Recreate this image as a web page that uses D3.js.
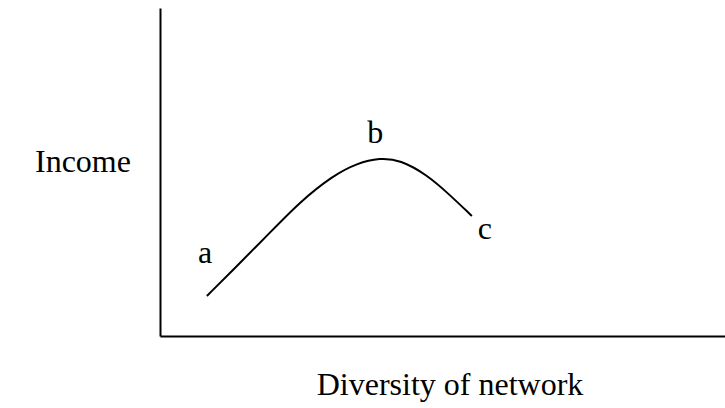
<!DOCTYPE html>
<html>
<head>
<meta charset="utf-8">
<script src="https://cdn.jsdelivr.net/npm/d3@7"></script>
<style>
  body { margin: 0; background: #fff; }
  text { font-family: 'Liberation Serif', 'Times New Roman', serif; fill: #000; }
</style>
</head>
<body>
<script>
// curve (arbitrary units)
const diversity = [0.83, 1.29, 1.89, 2.48, 3.06, 3.49, 3.89, 4.25, 4.73, 5.13, 5.52];
const income    = [1.22, 2.01, 3.05, 4.10, 4.89, 5.27, 5.43, 5.37, 4.91, 4.30, 3.66];

const pointLabels = ['a', 'b', 'c'];
const labelX = [0.80, 3.81, 5.75];
const labelY = [2.23, 5.88, 2.96];

const WIDTH = 725, HEIGHT = 408;
const MARGIN = { top: 8, right: 0, bottom: 72, left: 160 };

const x = d3.scaleLinear().domain([0, 10]).range([MARGIN.left, WIDTH - MARGIN.right]);
const y = d3.scaleLinear().domain([0, 10]).range([HEIGHT - MARGIN.bottom, MARGIN.top]);

const svg = d3.select('body').append('svg')
  .attr('width', WIDTH)
  .attr('height', HEIGHT);

// axes without ticks, just the two lines
svg.append('g')
  .attr('transform', `translate(0, ${y(0)})`)
  .call(d3.axisBottom(x).tickValues([]).tickSizeOuter(0))
  .select('.domain').attr('stroke-width', 2.2);

svg.append('g')
  .attr('transform', `translate(${x(0)}, 0)`)
  .call(d3.axisLeft(y).tickValues([]).tickSizeOuter(0))
  .select('.domain').attr('stroke-width', 2);

const line = d3.line()
  .x((d, i) => x(diversity[i]))
  .y((d) => y(d))
  .curve(d3.curveBasis);

svg.append('path')
  .datum(income)
  .attr('d', line)
  .attr('fill', 'none')
  .attr('stroke', '#000')
  .attr('stroke-width', 2);

svg.selectAll('.pt-label')
  .data(pointLabels)
  .enter().append('text')
    .attr('class', 'pt-label')
    .attr('x', (d, i) => x(labelX[i]))
    .attr('y', (d, i) => y(labelY[i]))
    .attr('text-anchor', 'middle')
    .style('font-size', '32px')
    .text((d) => d);

svg.append('text')
  .attr('x', 35)
  .attr('y', 172)
  .style('font-size', '32px')
  .text('Income');

svg.append('text')
  .attr('x', 450)
  .attr('y', 395)
  .attr('text-anchor', 'middle')
  .style('font-size', '32px')
  .text('Diversity of network');
</script>
</body>
</html>
